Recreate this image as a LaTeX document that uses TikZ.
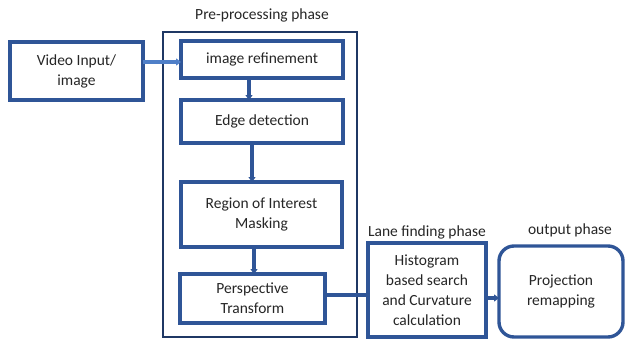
\documentclass[tikz,border=0pt]{standalone}
\usepackage{fontspec}
\setmainfont{Carlito}
\usetikzlibrary{arrows.meta,calc}
\definecolor{boxblue}{HTML}{2F5597}
\definecolor{navy}{HTML}{1F3864}
\definecolor{lightblue}{HTML}{4F7FC8}
\definecolor{txt}{HTML}{262626}
\begin{document}
\begin{tikzpicture}[x=1pt,y=-1pt,
  blk/.style={draw=boxblue,line width=3.4pt,fill=white,inner sep=0pt,outer sep=0pt,
    align=center,text=txt,font=\fontsize{15.5}{20}\selectfont},
  lbl/.style={text=txt,font=\fontsize{15.5}{20}\selectfont,inner sep=0pt},
  conn/.style={draw=boxblue,line width=3.2pt},
  arr/.style={conn,-{Triangle[length=5pt,width=7pt]}}]
\useasboundingbox (0,0) rectangle (625,340);
\node[draw=navy,line width=2pt,minimum width=194pt,minimum height=305pt,inner sep=0pt] (outer) at (260,184.5) {};
\node[blk,minimum width=133pt,minimum height=58pt] (vid) at (76.5,71) {Video Input/\\image};
\node[blk,minimum width=162pt,minimum height=37pt] (ref) at (262,59.5) {image refinement};
\node[blk,minimum width=162pt,minimum height=43pt] (edge) at (262,121.5) {Edge detection};
\node[blk,minimum width=161pt,minimum height=65pt] (roi) at (261.5,214.5) {Region of Interest\\Masking};
\node[blk,minimum width=145pt,minimum height=49pt] (persp) at (252.5,298.5) {Perspective\\Transform};
\node[blk,minimum width=118pt,minimum height=94pt] (hist) at (427,290) {Histogram\\based search\\and Curvature\\calculation};
\node[blk,rounded corners=15pt,minimum width=124pt,minimum height=91pt] (out) at (561,291.5) {Projection\\remapping};
\node[lbl] (l1) at (262,15) {Pre-processing phase};
\node[lbl] (l2) at (427,232) {Lane finding phase};
\node[lbl] (l3) at (570,230) {output phase};
\coordinate (c1) at ($(vid.east)+(0,-9)$);
\coordinate (c2) at ($(ref.south)+(-13,0)$);
\coordinate (c3) at ($(edge.south)+(-10,0)$);
\coordinate (c4) at ($(roi.south)+(-7.5,0)$);
\coordinate (c5) at ($(persp.east)+(0,-3.5)$);
\coordinate (c6) at ($(hist.east)+(0,8)$);
\draw[arr,draw=lightblue] (c1) -- (c1 -| ref.west);
\draw[arr] (c2) -- (c2 |- edge.north);
\draw[arr] (c3) -- (c3 |- roi.north);
\draw[arr] (c4) -- (c4 |- persp.north);
\draw[conn] (c5) -- (c5 -| hist.west);
\draw[arr] (c6) -- (c6 -| out.west);
\end{tikzpicture}
\end{document}
